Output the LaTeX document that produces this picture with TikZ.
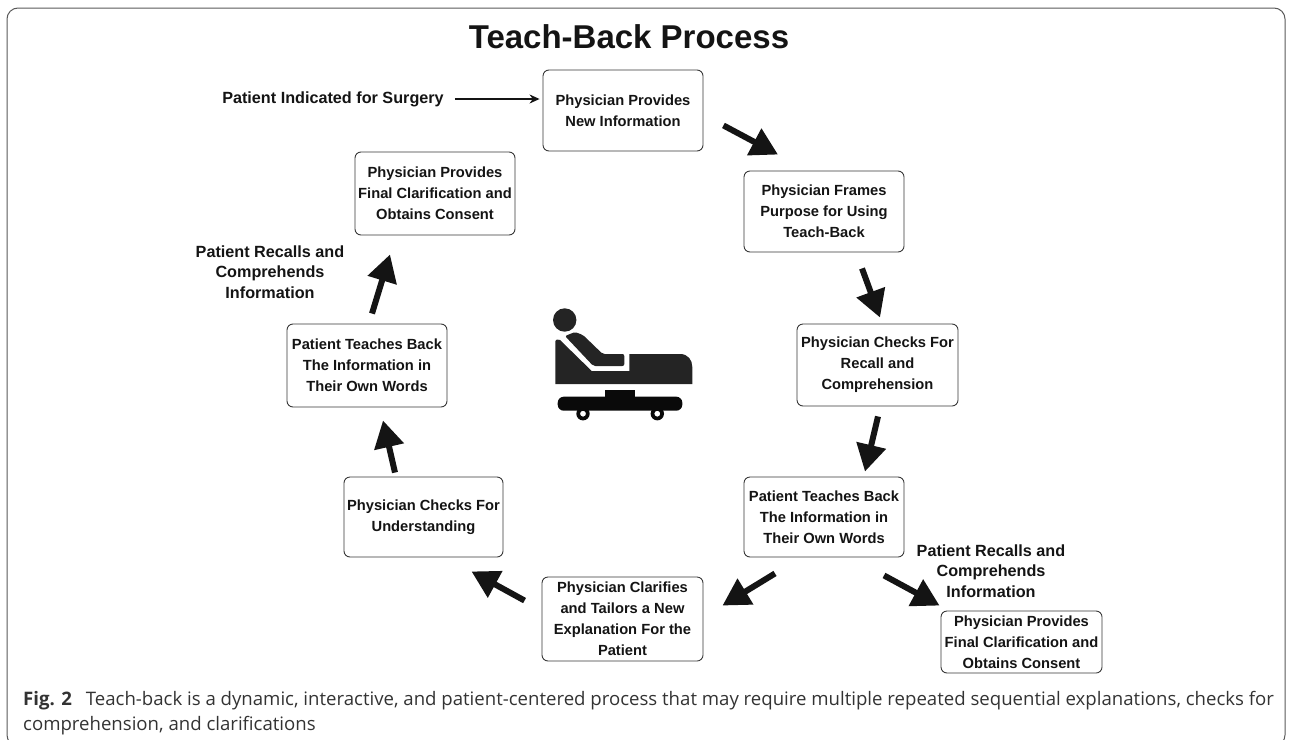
\documentclass[tikz,border=0pt]{standalone}
\usepackage{fontspec}
\setmainfont{Liberation Sans}
\newfontfamily\capfont{Open Sans}
\usetikzlibrary{arrows.meta}
\definecolor{ink}{HTML}{141414}
\tikzset{
  stepbox/.style={draw=ink!85,line width=0.9pt,rounded corners=6pt,align=center,inner sep=0pt,text=ink,
    font=\bfseries\fontsize{14.7}{21}\selectfont},
  lbl/.style={align=center,inner sep=0pt,text=ink,font=\bfseries\fontsize{16.2}{20.5}\selectfont},
  bigarrow/.style={draw=ink,line width=6pt,-{Triangle[length=27pt,width=29pt]}},
  thinarrow/.style={draw=ink,line width=1.3pt,-{Stealth[length=10pt,width=9pt]}},
  iconpart/.style={fill=black!86,draw=none},
}
\begin{document}
\begin{tikzpicture}[x=1pt,y=-1pt]
\useasboundingbox (0,0) rectangle (1292,739);
\begin{scope}
\clip (0,0) rectangle (1292,739);
\draw[draw=black!65,line width=1pt,rounded corners=11pt] (7,8) rectangle (1285,746);
\end{scope}
\node[inner sep=0pt,text=ink,font=\bfseries\fontsize{33}{40}\selectfont] (title) at (629,37) {Teach-Back Process};
\node[stepbox,minimum width=160pt,minimum height=81pt] (n1) at (623,110.5) {Physician Provides\\New Information};
\node[stepbox,minimum width=160pt,minimum height=81pt] (n2) at (824,211.5) {Physician Frames\\Purpose for Using\\Teach-Back};
\node[stepbox,minimum width=161pt,minimum height=82pt] (n3) at (877.5,365) {Physician Checks For\\Recall and\\Comprehension};
\node[stepbox,minimum width=160pt,minimum height=80pt] (n4) at (824,517) {Patient Teaches Back\\The Information in\\Their Own Words};
\node[stepbox,minimum width=161pt,minimum height=62pt] (n5) at (1021.5,642) {Physician Provides\\Final Clarification and\\Obtains Consent};
\node[stepbox,minimum width=161pt,minimum height=84pt] (n6) at (622.5,619) {Physician Clarifies\\and Tailors a New\\Explanation For the\\Patient};
\node[stepbox,minimum width=159pt,minimum height=80pt] (n7) at (423.5,517) {Physician Checks For\\Understanding};
\node[stepbox,minimum width=160pt,minimum height=83pt] (n8) at (367,365.5) {Patient Teaches Back\\The Information in\\Their Own Words};
\node[stepbox,minimum width=160pt,minimum height=83pt] (n9) at (435,193.5) {Physician Provides\\Final Clarification and\\Obtains Consent};
\node[lbl] (start) at (333,99) {Patient Indicated for Surgery};
\node[lbl] (recallL) at (270,272) {Patient Recalls and\\Comprehends\\Information};
\node[lbl] (recallR) at (991,571) {Patient Recalls and\\Comprehends\\Information};
\draw[thinarrow] ([xshift=11pt]start.east) -- ([xshift=-3pt]n1.west |- start.east);
\draw[bigarrow] ([shift={(20,-26)}]n1.south east) -- ([shift={(-46,-16)}]n2.north);
\draw[bigarrow] ([shift={(38,16)}]n2.south) -- ([shift={(2.5,-6)}]n3.north);
\draw[bigarrow] ([shift={(0.5,10)}]n3.south) -- ([shift={(41,-5)}]n4.north);
\draw[bigarrow] ([shift={(60,18)}]n4.south) -- ([shift={(-1,-5)}]n5.north west);
\draw[bigarrow] ([shift={(-49,16)}]n4.south) -- ([shift={(19,29)}]n6.north east);
\draw[bigarrow] ([shift={(-17,24)}]n6.north west) -- ([shift={(48,14)}]n7.south);
\draw[bigarrow] ([shift={(-28.5,-4)}]n7.north) -- ([shift={(16,13)}]n8.south);
\draw[bigarrow] ([shift={(5,-10)}]n8.north) -- ([shift={(-45,19)}]n9.south);
% patient-on-bed icon
\fill[iconpart] (564.7,320) circle (11.7pt);
\fill[iconpart,rounded corners=2pt] (565,336) -- (575,332) -- (583,335) -- (602.7,354) -- (624.3,354) -- (624.3,366) -- (593.3,366) -- cycle;
\fill[iconpart] (555.3,384) -- (555.3,341) -- (557,339.5) -- (560,340) -- (591.7,371) -- (629.3,371) -- (629.3,354) -- (680,354) .. controls (688,354) and (692.3,360) .. (692.3,367) -- (692.3,384) -- cycle;
\fill[black!96,rounded corners=6pt] (557.7,396.7) rectangle (682.3,410.7);
\fill[black!96] (605.3,390.3) rectangle (635,397.5);
\fill[black!96,even odd rule] (583,413.7) circle (6.7pt) (583,413.7) circle (3pt);
\fill[black!96,even odd rule] (657.3,413.7) circle (6.7pt) (657.3,413.7) circle (3pt);
\node[anchor=north west,inner sep=0pt,align=left,text=black!80,font=\capfont\fontsize{18.6}{25.5}\selectfont] (caption) at (23,691)
 {{\bfseries Fig. 2}\hspace{0.75em}Teach-back is a dynamic, interactive, and patient-centered process that may require multiple repeated sequential explanations, checks for\\comprehension, and clarifications};
\end{tikzpicture}
\end{document}
